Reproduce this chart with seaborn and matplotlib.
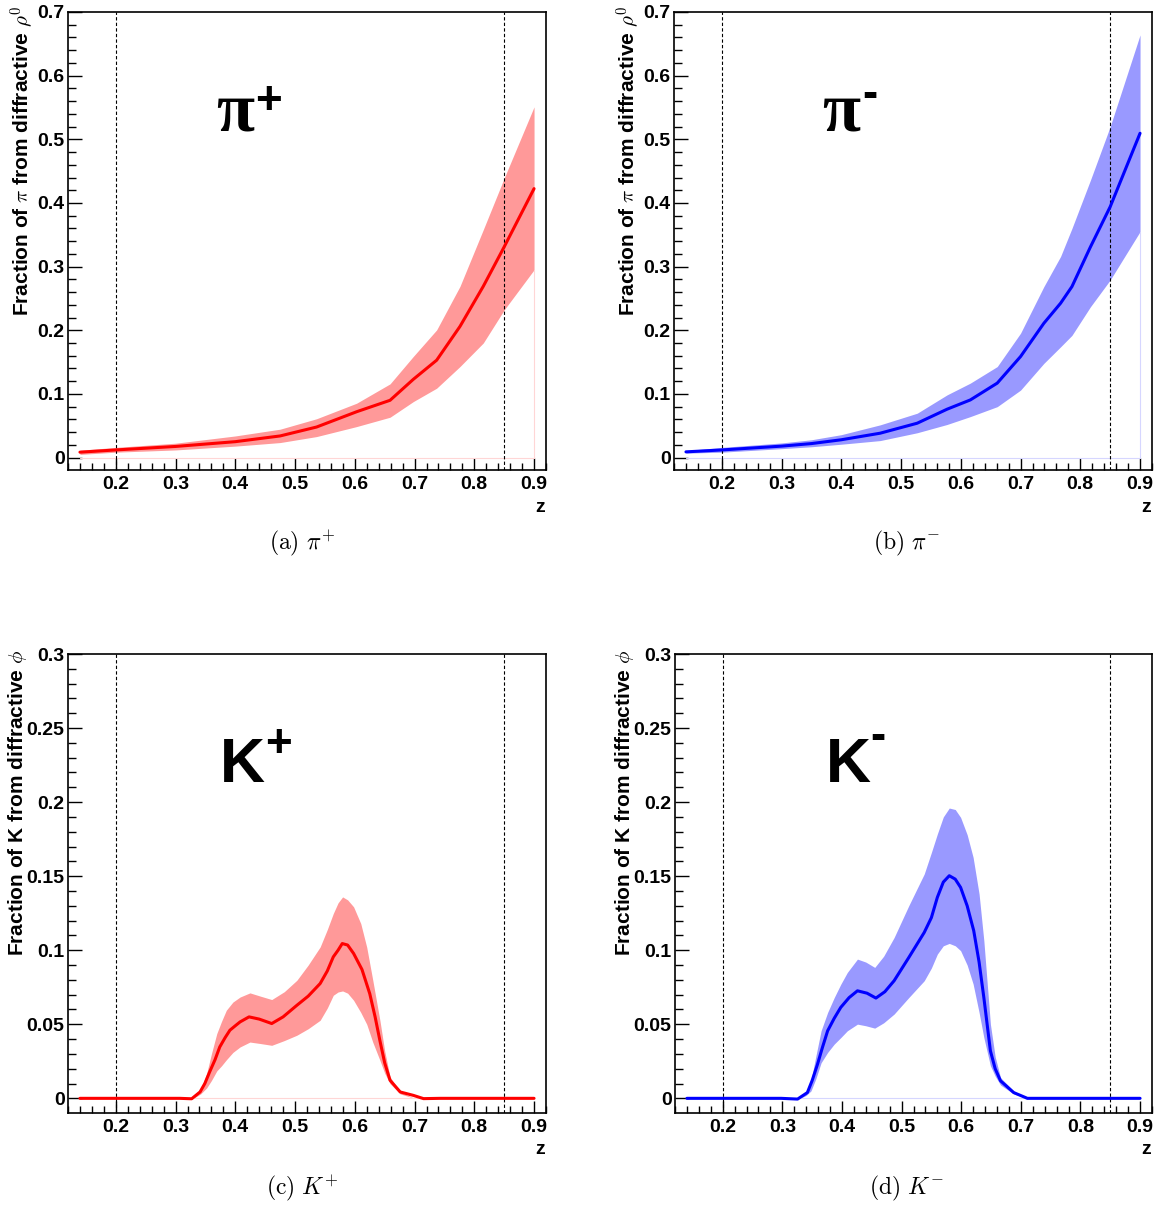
import matplotlib
matplotlib.use("Agg")
import matplotlib.pyplot as plt
from matplotlib.ticker import MultipleLocator, FuncFormatter
import seaborn as sns

# ---- data ----
# (a) pi+
z_pip = [0.14, 0.20, 0.30, 0.40, 0.475, 0.536, 0.603, 0.659, 0.698, 0.737, 0.776, 0.815, 0.85, 0.90]
mid_pip = [0.0085, 0.012, 0.0175, 0.025, 0.034, 0.048, 0.072, 0.090, 0.123, 0.153, 0.206, 0.269, 0.331, 0.4225]
hi_pip = [0.0116, 0.016, 0.0226, 0.034, 0.0446, 0.061, 0.0854, 0.1158, 0.159, 0.2006, 0.269, 0.358, 0.439, 0.551]
lo_pip = [0.0050, 0.0085, 0.012, 0.018, 0.0236, 0.033, 0.0487, 0.0634, 0.088, 0.109, 0.143, 0.180, 0.232, 0.295]

# (b) pi-
z_pim = [0.14, 0.20, 0.30, 0.35, 0.40, 0.465, 0.527, 0.577, 0.616, 0.661, 0.700, 0.739, 0.767, 0.786, 0.817, 0.850, 0.90]
mid_pim = [0.009, 0.012, 0.018, 0.022, 0.028, 0.0383, 0.054, 0.076, 0.0906, 0.117, 0.1587, 0.211, 0.2425, 0.2686, 0.331, 0.394, 0.5095]
hi_pim = [0.011, 0.016, 0.023, 0.028, 0.036, 0.0514, 0.0697, 0.0985, 0.117, 0.143, 0.1954, 0.2686, 0.316, 0.360, 0.436, 0.52, 0.664]
lo_pim = [0.007, 0.0085, 0.014, 0.017, 0.021, 0.0267, 0.039, 0.052, 0.0644, 0.080, 0.106, 0.148, 0.174, 0.192, 0.237, 0.279, 0.355]

# (c) K+
z_kp = [0.14, 0.307, 0.327, 0.341, 0.349, 0.357, 0.366, 0.374, 0.383, 0.391, 0.400, 0.408, 0.423, 0.440,
        0.461, 0.480, 0.503, 0.522, 0.542, 0.554, 0.564, 0.572, 0.579, 0.588, 0.598, 0.612, 0.625, 0.634,
        0.642, 0.650, 0.659, 0.676, 0.698, 0.715, 0.743, 0.90]
mid_kp = [0.0, 0.0, -0.0003, 0.0043, 0.010, 0.0178, 0.026, 0.0347, 0.041, 0.046, 0.049, 0.0516, 0.055, 0.0535,
          0.0505, 0.055, 0.0628, 0.069, 0.0775, 0.086, 0.0955, 0.100, 0.1045, 0.1035, 0.0978, 0.087, 0.0707, 0.055,
          0.039, 0.024, 0.0122, 0.0043, 0.002, -0.0002, 0.0, 0.0]
zb_kp = [0.14, 0.33, 0.342, 0.352, 0.360, 0.369, 0.377, 0.385, 0.396, 0.408, 0.4245, 0.442, 0.461, 0.482,
         0.503, 0.522, 0.542, 0.554, 0.564, 0.572, 0.5796, 0.588, 0.598, 0.61, 0.62, 0.63, 0.642, 0.650,
         0.659, 0.676, 0.70, 0.90]
hi_kp = [0.0, 0.0, 0.006, 0.0167, 0.030, 0.0437, 0.052, 0.0595, 0.065, 0.0684, 0.0712, 0.069, 0.0667, 0.072,
         0.0797, 0.090, 0.1022, 0.114, 0.1248, 0.132, 0.136, 0.134, 0.1293, 0.118, 0.102, 0.080, 0.0527, 0.032,
         0.0144, 0.0043, 0.0, 0.0]
lo_kp = [0.0, 0.0, 0.003, 0.007, 0.012, 0.0185, 0.022, 0.026, 0.031, 0.0347, 0.038, 0.037, 0.0358, 0.039,
         0.0426, 0.047, 0.0527, 0.061, 0.0696, 0.0718, 0.0725, 0.071, 0.0662, 0.058, 0.050, 0.038, 0.0257, 0.017,
         0.0099, 0.003, 0.0, 0.0]

# (d) K-
z_km = [0.14, 0.298, 0.3256, 0.342, 0.350, 0.359, 0.367, 0.376, 0.387, 0.398, 0.412, 0.426, 0.442, 0.457,
        0.472, 0.4875, 0.512, 0.538, 0.550, 0.560, 0.570, 0.580, 0.590, 0.599, 0.610, 0.621, 0.630, 0.638,
        0.649, 0.657, 0.666, 0.688, 0.711, 0.90]
mid_km = [0.0, 0.0, -0.0005, 0.0039, 0.012, 0.023, 0.034, 0.0456, 0.054, 0.0614, 0.068, 0.0726, 0.071, 0.0677,
          0.072, 0.0794, 0.095, 0.112, 0.122, 0.1357, 0.146, 0.1503, 0.148, 0.1424, 0.130, 0.1132, 0.092, 0.068,
          0.032, 0.020, 0.0118, 0.0039, 0.0, 0.0]
zb_km = [0.14, 0.33, 0.340, 0.348, 0.356, 0.365, 0.376, 0.387, 0.398, 0.409, 0.426, 0.44, 0.455, 0.47,
         0.4875, 0.512, 0.538, 0.550, 0.560, 0.570, 0.580, 0.590, 0.599, 0.610, 0.620, 0.630, 0.638, 0.649,
         0.657, 0.666, 0.688, 0.71, 0.90]
hi_km = [0.0, 0.0, 0.004, 0.0118, 0.028, 0.0456, 0.058, 0.068, 0.077, 0.085, 0.094, 0.092, 0.0884, 0.096,
         0.1086, 0.130, 0.1515, 0.166, 0.1785, 0.190, 0.196, 0.195, 0.1897, 0.178, 0.1627, 0.138, 0.1064, 0.050,
         0.028, 0.014, 0.005, 0.0, 0.0]
lo_km = [0.0, 0.0, 0.002, 0.005, 0.013, 0.024, 0.031, 0.0366, 0.041, 0.0456, 0.0501, 0.049, 0.0474, 0.051,
         0.0569, 0.068, 0.0794, 0.088, 0.0974, 0.103, 0.1046, 0.103, 0.0997, 0.090, 0.0772, 0.058, 0.041, 0.022,
         0.015, 0.009, 0.003, 0.0, 0.0]

cut_lines = [0.2, 0.85]

# ---- style ----
sns.set_style("white")
plt.rcParams["font.family"] = ["Liberation Sans", "DejaVu Sans"]
plt.rcParams["font.weight"] = "bold"
plt.rcParams["mathtext.fontset"] = "cm"
for key in ["text.color", "axes.labelcolor", "xtick.color", "ytick.color", "axes.edgecolor"]:
    plt.rcParams[key] = "black"

W, H = 1159, 1213
fig = plt.figure(figsize=(W / 100, H / 100), dpi=100)


def px_axes(l, t, r, b):
    return fig.add_axes([l / W, 1 - b / H, (r - l) / W, (b - t) / H])


panels = [
    dict(box=(68, 12, 546, 470), z=z_pip, mid=mid_pip, zb=z_pip, lo=lo_pip, hi=hi_pip,
         line="#ff0000", band="#ff9999", faint="#ffd6d6", ylim=(-0.0195, 0.7), major=0.1, minor=0.02,
         ylabel=r"Fraction of $\pi$ from diffractive $\rho^{0}$", ylab_xy=(22, 6),
         sym="\u03c0", serif=True, sup="+", sup_xy=(0.42, 0.8035),
         caption=r"$\mathrm{(a)}\ \pi^{+}$", cap_xy=(302, 543), zlab_xy=(540, 507)),
    dict(box=(674, 12, 1152, 470), z=z_pim, mid=mid_pim, zb=z_pim, lo=lo_pim, hi=hi_pim,
         line="#0000ff", band="#9999ff", faint="#d6d6ff", ylim=(-0.0195, 0.7), major=0.1, minor=0.02,
         ylabel=r"Fraction of $\pi$ from diffractive $\rho^{0}$", ylab_xy=(628, 6),
         sym="\u03c0", serif=True, sup="-", sup_xy=(0.41, 0.818),
         caption=r"$\mathrm{(b)}\ \pi^{-}$", cap_xy=(906, 543), zlab_xy=(1146, 507)),
    dict(box=(68, 654, 546, 1113), z=z_kp, mid=mid_kp, zb=zb_kp, lo=lo_kp, hi=hi_kp,
         line="#ff0000", band="#ff9999", faint="#ffd6d6", ylim=(-0.0099, 0.3), major=0.05, minor=0.01,
         ylabel=r"Fraction of K from diffractive $\phi$", ylab_xy=(18, 650),
         sym="K", serif=False, sup="+", sup_xy=(0.44, 0.802),
         caption=r"$\mathrm{(c)}\ K^{+}$", cap_xy=(302, 1188), zlab_xy=(540, 1150)),
    dict(box=(675, 654, 1152, 1113), z=z_km, mid=mid_km, zb=zb_km, lo=lo_km, hi=hi_km,
         line="#0000ff", band="#9999ff", faint="#d6d6ff", ylim=(-0.0099, 0.3), major=0.05, minor=0.01,
         ylabel=r"Fraction of K from diffractive $\phi$", ylab_xy=(624, 650),
         sym="K", serif=False, sup="-", sup_xy=(0.425, 0.819),
         caption=r"$\mathrm{(d)}\ K^{-}$", cap_xy=(906, 1188), zlab_xy=(1146, 1150)),
]

fmt = FuncFormatter(lambda v, p: f"{v:g}")

for p in panels:
    ax = px_axes(*p["box"])
    ax.fill_between(p["zb"], p["lo"], p["hi"], color=p["band"], lw=0, zorder=1)
    # faint outline of the band histogram along zero
    ax.plot([p["zb"][0], p["zb"][-1]], [0, 0], color=p["faint"], lw=0.8, zorder=1)
    ax.plot([p["zb"][-1], p["zb"][-1]], [0, p["lo"][-1]], color=p["faint"], lw=0.8, zorder=1)
    sns.lineplot(x=p["z"], y=p["mid"], ax=ax, color=p["line"], lw=2.2, estimator=None, sort=False, zorder=3)
    for c in cut_lines:
        ax.axvline(c, color="black", lw=0.8, ls=(0, (3, 2)), zorder=2)

    ax.set_xlim(0.12, 0.92)
    ax.set_ylim(*p["ylim"])
    ax.xaxis.set_major_locator(MultipleLocator(0.1))
    ax.xaxis.set_minor_locator(MultipleLocator(0.02))
    ax.yaxis.set_major_locator(MultipleLocator(p["major"]))
    ax.yaxis.set_minor_locator(MultipleLocator(p["minor"]))
    ax.xaxis.set_major_formatter(fmt)
    ax.yaxis.set_major_formatter(fmt)
    ax.tick_params(which="both", direction="in", top=False, right=False, left=True, bottom=True,
                   colors="black", width=1)
    ax.tick_params(axis="y", which="major", length=10, pad=2.5, labelsize=14)
    ax.tick_params(axis="y", which="minor", length=5.8)
    ax.tick_params(axis="x", which="major", length=8.6, pad=4, labelsize=14)
    ax.tick_params(axis="x", which="minor", length=5)
    for s in ax.spines.values():
        s.set_color("black")
        s.set_linewidth(1.2)

    # big particle label
    if p["serif"]:
        ax.text(0.31, 0.742, p["sym"], transform=ax.transAxes, fontsize=50, fontweight="bold",
                family=["Liberation Serif", "DejaVu Serif"], ha="left", va="baseline")
    else:
        ax.text(0.317, 0.721, p["sym"], transform=ax.transAxes, fontsize=45, fontweight="bold",
                ha="left", va="baseline")
    ax.text(p["sup_xy"][0], p["sup_xy"][1], p["sup"], transform=ax.transAxes, fontsize=33,
            fontweight="bold", ha="center", va="center")

    fig.text(p["ylab_xy"][0] / W, 1 - p["ylab_xy"][1] / H, p["ylabel"], rotation=90,
             ha="center", va="top", fontsize=15, fontweight="bold")
    fig.text(p["zlab_xy"][0] / W, 1 - p["zlab_xy"][1] / H, "z", ha="center", va="center",
             fontsize=14, fontweight="bold")
    fig.text(p["cap_xy"][0] / W, 1 - p["cap_xy"][1] / H, p["caption"], ha="center", va="center",
             fontsize=17)

fig.savefig("out.png", dpi=100, facecolor="white")
